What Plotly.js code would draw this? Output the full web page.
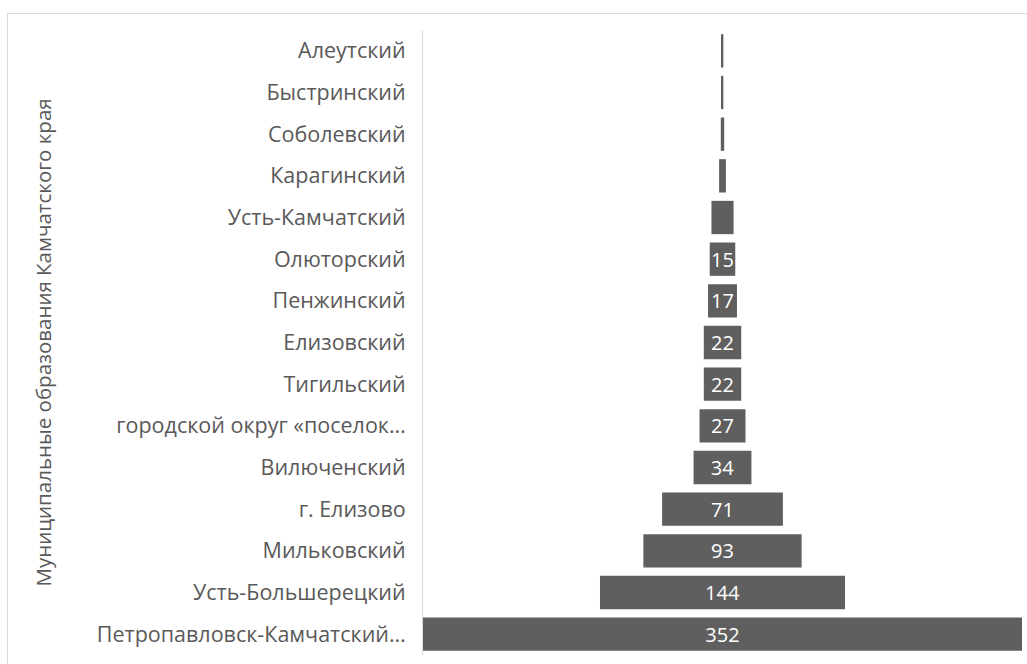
<!DOCTYPE html>
<html>
<head>
<meta charset="utf-8">
<script src="https://cdn.plot.ly/plotly-3.0.1.min.js"></script>
<style>
html,body{margin:0;padding:0;background:#fff;}
#chart{width:1027px;height:664px;}
</style>
</head>
<body>
<div id="chart"></div>
<script>
const categories = [
  "Алеутский",
  "Быстринский",
  "Соболевский",
  "Карагинский",
  "Усть-Камчатский",
  "Олюторский",
  "Пенжинский",
  "Елизовский",
  "Тигильский",
  "городской округ «поселок…",
  "Вилюченский",
  "г. Елизово",
  "Мильковский",
  "Усть-Большерецкий",
  "Петропавловск-Камчатский…"
];
const values = [1, 1, 2, 4, 13, 15, 17, 22, 22, 27, 34, 71, 93, 144, 352];
const axisTitle = "Муниципальные образования Камчатского края";
// bars narrower than this value carry no data label in the original
const minLabelValue = 15;

const W = 1027, H = 664;
const M = {l: 423, r: 5, t: 30, b: 9};
const pw = W - M.l - M.r, ph = H - M.t - M.b;
const px2x = p => (p - M.l) / pw;
const py2y = p => (H - M.b - p) / ph;

const trace = {
  type: 'funnel',
  orientation: 'h',
  y: categories,
  x: values,
  marker: {color: '#5f5f5f', line: {width: 0}},
  connector: {visible: false},
  texttemplate: values.map(v => v >= minLabelValue ? '%{value}' : ''),
  textposition: 'inside',
  insidetextanchor: 'middle',
  constraintext: 'none',
  insidetextfont: {family: 'Open Sans, sans-serif', size: 20, color: '#ffffff'},
  hoverinfo: 'y+x'
};

const maxV = Math.max(...values);

const layout = {
  width: W, height: H,
  margin: M,
  paper_bgcolor: '#ffffff',
  plot_bgcolor: '#ffffff',
  showlegend: false,
  bargap: 0.055,
  font: {family: 'Open Sans, sans-serif', color: '#595959', size: 20},
  xaxis: {
    range: [-maxV / 2, maxV / 2],
    visible: false,
    fixedrange: true
  },
  yaxis: {
    showline: true,
    linecolor: '#d9d9d9',
    linewidth: 1,
    ticks: 'outside',
    ticklen: 12,
    tickcolor: 'rgba(0,0,0,0)',
    tickfont: {family: 'Open Sans, sans-serif', size: 21.5, color: '#595959'},
    showgrid: false,
    zeroline: false,
    fixedrange: true
  },
  annotations: [{
    text: axisTitle,
    xref: 'paper', yref: 'paper',
    x: px2x(42), y: 0.5,
    xanchor: 'center', yanchor: 'middle',
    textangle: -90,
    showarrow: false,
    font: {family: 'Open Sans, sans-serif', size: 20.5, color: '#595959'}
  }],
  shapes: [{
    type: 'rect', xref: 'paper', yref: 'paper', layer: 'below',
    x0: px2x(7.5), x1: px2x(W + 50),
    y0: py2y(13.5), y1: py2y(H + 50),
    line: {color: '#d9d9d9', width: 1},
    fillcolor: 'rgba(0,0,0,0)'
  }]
};

Plotly.newPlot('chart', [trace], layout, {displayModeBar: false});
</script>
</body>
</html>
